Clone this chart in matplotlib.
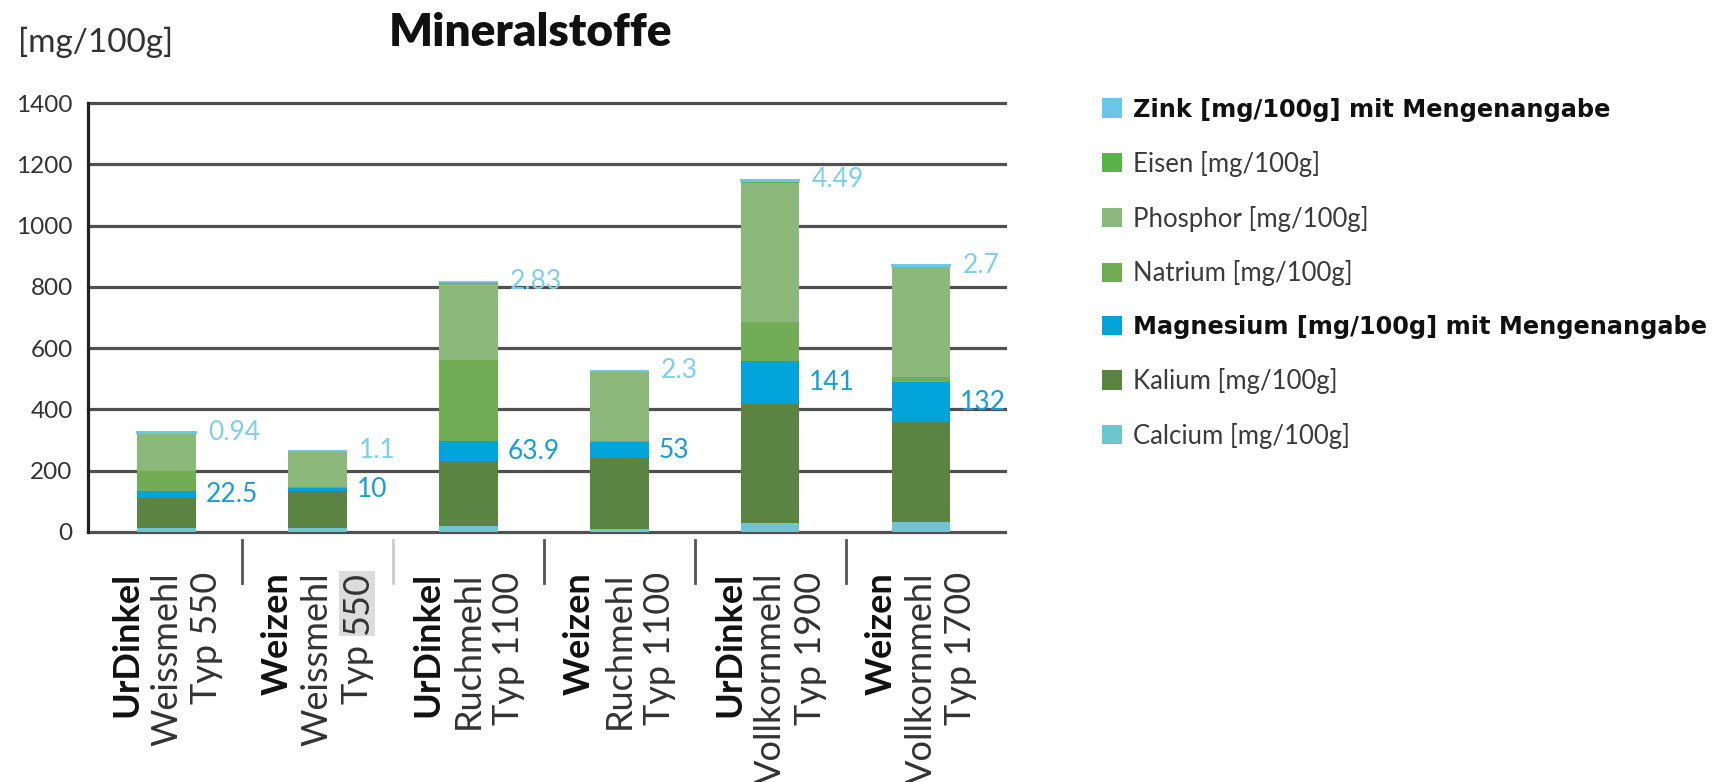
import matplotlib
matplotlib.use("Agg")
import matplotlib.pyplot as plt
import matplotlib.transforms as mtransforms
from matplotlib.patches import Patch
import numpy as np

plt.rcParams['font.family'] = ['Lato', 'DejaVu Sans']

# ---------------- data ----------------
flour_brand = ["UrDinkel", "Weizen", "UrDinkel", "Weizen", "UrDinkel", "Weizen"]
flour_kind = ["Weissmehl", "Weissmehl", "Ruchmehl", "Ruchmehl", "Vollkornmehl", "Vollkornmehl"]
flour_type = ["Typ 550", "Typ 550", "Typ 1100", "Typ 1100", "Typ 1900", "Typ 1700"]

calcium = [12, 12, 20, 10, 28, 34]
kalium = [100, 123, 212, 230, 390, 324]
magnesium = [22.5, 10, 63.9, 53, 141, 132]
natrium = [65, 2, 267, 3, 126, 15]
phosphor = [123, 115, 248, 225, 455, 360]
eisen = [1.5, 1.5, 3.5, 3, 4.5, 3.5]
zink = [0.94, 1.1, 2.83, 2.3, 4.49, 2.7]

magnesium_labels = ["22.5", "10", "63.9", "53", "141", "132"]
zink_labels = ["0.94", "1.1", "2.83", "2.3", "4.49", "2.7"]

series_names = ["Calcium [mg/100g]", "Kalium [mg/100g]",
                "Magnesium [mg/100g] mit Mengenangabe", "Natrium [mg/100g]",
                "Phosphor [mg/100g]", "Eisen [mg/100g]",
                "Zink [mg/100g] mit Mengenangabe"]
bold_series = ["Magnesium [mg/100g] mit Mengenangabe", "Zink [mg/100g] mit Mengenangabe"]
y_ticks = [0, 200, 400, 600, 800, 1000, 1200, 1400]

series_values = [calcium, kalium, magnesium, natrium, phosphor, eisen, zink]
series_colors = ["#6fc5cf", "#5b8442", "#00a3da", "#72ad55", "#8db87b", "#58b44a", "#6cc6e8"]

W, H = 1720, 782
fig = plt.figure(figsize=(W / 100, H / 100), dpi=100)
ax = fig.add_axes([88 / W, 1 - 532 / H, (1005 - 88) / W, (532 - 103) / H])

x = np.arange(len(flour_brand))
bar_w = 0.39
bottom = np.zeros(len(x))
handles = []
for vals, col, name in zip(series_values, series_colors, series_names):
    vals = np.asarray(vals, dtype=float)
    lw = 1.4 if name.startswith("Zink") else 0
    ax.bar(x, vals, width=bar_w, bottom=bottom, color=col, edgecolor=col,
           linewidth=lw, zorder=3)
    bottom = bottom + vals
    handles.append(Patch(facecolor=col, edgecolor='none', label=name))

ax.set_xlim(-0.520, 5.557)
ax.set_ylim(0, 1400)
ax.set_yticks(y_ticks)
ax.set_xticks([])
for t in y_ticks:
    ax.axhline(t, color="#505050", lw=2.3, zorder=1, clip_on=False)
for s in ["top", "right", "bottom"]:
    ax.spines[s].set_visible(False)
ax.spines["left"].set_color("#222222")
ax.spines["left"].set_linewidth(2.3)
ax.spines["left"].set_zorder(4)
ax.tick_params(axis="y", length=0, pad=11, labelsize=17.5, labelcolor="#333333")

# value labels
for i in x:
    mg_mid = calcium[i] + kalium[i] + magnesium[i] / 2
    ax.annotate(magnesium_labels[i], (i + bar_w / 2, mg_mid), xytext=(7, 0),
                textcoords="offset points", ha="left", va="center",
                color="#1b9bd7", fontsize=19)
    ax.annotate(zink_labels[i], (i + bar_w / 2, bottom[i]), xytext=(9, 0),
                textcoords="offset points", ha="left", va="center",
                color="#80cdee", fontsize=19)

# category separators below axis
sep_tr = mtransforms.blended_transform_factory(ax.transData, fig.transFigure)
sep_colors = ["#555555", "#cccccc", "#555555", "#555555", "#555555"]
for b, c in zip(x[:-1] + 0.5, sep_colors):
    ax.plot([b, b], [1 - 540 / H, 1 - 583 / H], transform=sep_tr, color=c,
            lw=2.0, clip_on=False)

# category labels (three rotated lines)
lab_fs = 26
y_top = 1 - 572 / H
renderer = fig.canvas.get_renderer()
for i in x:
    for k, (txt, dx) in enumerate([(flour_brand[i], -40), (flour_kind[i], 0), (flour_type[i], 40)]):
        tr = mtransforms.offset_copy(sep_tr, fig=fig, x=dx, y=0, units="dots")
        style = dict(rotation=90, ha="center", va="top", fontsize=lab_fs,
                     fontweight="bold" if k == 0 else "normal",
                     color="#111111" if k == 0 else "#333333", clip_on=False)
        if i == 1 and k == 2:
            # "550" is shown highlighted in the reference
            head, tail = txt.split(" ")
            ax.text(i, y_top, tail, transform=tr,
                    bbox=dict(facecolor="#dcdcdc", edgecolor="none", pad=1), **style)
            tmp_full = fig.text(0, 0, txt, fontsize=lab_fs)
            tmp_head = fig.text(0, 0, head, fontsize=lab_fs)
            shift = (tmp_full.get_window_extent(renderer).width
                     - tmp_head.get_window_extent(renderer).width)
            tmp_full.remove()
            tmp_head.remove()
            tr2 = mtransforms.offset_copy(sep_tr, fig=fig, x=dx, y=-shift, units="dots")
            ax.text(i, y_top, head, transform=tr2, **style)
        else:
            ax.text(i, y_top, txt, transform=tr, **style)

# title and unit
fig.text(531 / W, 1 - 33 / H, "Mineralstoffe", ha="center", va="center",
         fontsize=33, fontweight="heavy", color="#111111")
fig.text(18 / W, 1 - 42 / H, "[mg/100g]", ha="left", va="center",
         fontsize=24, color="#333333")

# legend
leg = fig.legend(handles=handles[::-1], loc="upper left",
                 bbox_to_anchor=(1102 / W, 1 - 98 / H), frameon=False,
                 fontsize=18.5, handlelength=0.78, handleheight=0.78,
                 handletextpad=0.42, labelspacing=1.12, borderpad=0,
                 borderaxespad=0)
for t in leg.get_texts():
    if t.get_text() in bold_series:
        t.set_fontfamily(["DejaVu Sans"])
        t.set_fontweight("bold")
        t.set_fontsize(17.3)
        t.set_color("#111111")
    else:
        t.set_color("#3a3a3a")

fig.savefig("out.png", dpi=100)
